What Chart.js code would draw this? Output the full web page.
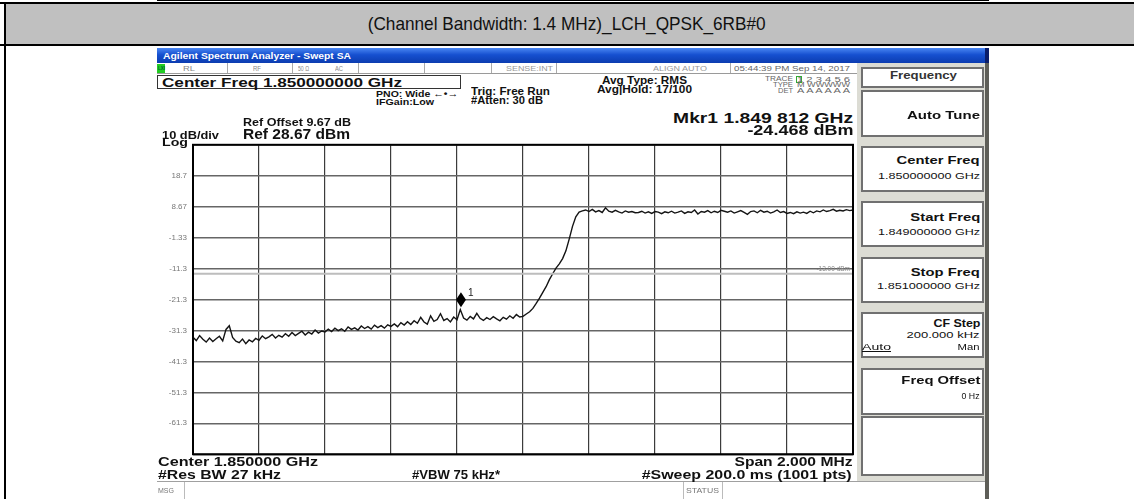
<!DOCTYPE html>
<html><head><meta charset="utf-8">
<script src="https://cdn.jsdelivr.net/npm/chart.js@4.4.1/dist/chart.umd.min.js"></script>
<style>
html,body{margin:0;padding:0;background:#fff;}
body{width:1134px;height:499px;position:relative;overflow:hidden;font-family:"Liberation Sans",Arial,sans-serif;}
.a{position:absolute;box-sizing:border-box;}
.t{position:absolute;white-space:nowrap;line-height:1;color:#111;}
.btn{position:absolute;box-sizing:border-box;background:#fff;border:2px solid #707070;left:861px;width:123px;}
</style></head><body>
<!-- page frame / header band -->
<div class="a" style="left:157px;top:0;width:832px;height:1px;background:#000"></div>
<div class="a" style="left:0;top:2px;width:1134px;height:2px;background:#000"></div>
<div class="a" style="left:4px;top:4px;width:1130px;height:40px;background:#c0c0c0"></div>
<div class="a" style="left:0;top:44px;width:1134px;height:2px;background:#000"></div>
<div class="a" style="left:4px;top:2px;width:2px;height:497px;background:#000"></div>

<!-- analyzer screen -->
<div class="a" style="left:157px;top:48px;width:828px;height:15px;background:linear-gradient(#4a86f2,#1650d0 45%,#0c3cb0)"></div>
<div class="a" style="left:985px;top:48px;width:4px;height:15px;background:#0a1d6a"></div>
<div class="a" style="left:985px;top:63px;width:4px;height:436px;background:#5e5e58"></div>
<!-- status row -->
<div class="a" style="left:157px;top:63px;width:701px;height:11px;border-bottom:1px solid #9a9a9a;background:#fff"></div>
<div class="a" style="left:157px;top:64px;width:8px;height:9px;background:#22cc22"></div>
<div class="a" style="left:227px;top:63px;width:1px;height:10px;background:#aaa"></div>
<div class="a" style="left:292px;top:63px;width:1px;height:10px;background:#aaa"></div>
<div class="a" style="left:358px;top:63px;width:1px;height:10px;background:#aaa"></div>
<div class="a" style="left:424px;top:63px;width:1px;height:10px;background:#aaa"></div>
<div class="a" style="left:491px;top:63px;width:1px;height:10px;background:#aaa"></div>
<div class="a" style="left:556px;top:63px;width:1px;height:10px;background:#aaa"></div>
<div class="a" style="left:730px;top:63px;width:1px;height:10px;background:#aaa"></div>
<div class="a" style="left:796px;top:76px;width:6px;height:7px;border:1px solid #3a3"></div>
<!-- center freq box -->
<div class="a" style="left:157px;top:75px;width:304px;height:14px;border:1px solid #333"></div>
<!-- right panel -->
<div class="a" style="left:857px;top:63px;width:128px;height:418px;background:#dcdcd4"></div>
<div class="btn" style="top:67px;height:21px"></div>
<div class="btn" style="top:90px;height:47px"></div>
<div class="btn" style="top:146px;height:46px"></div>
<div class="btn" style="top:201px;height:46px"></div>
<div class="btn" style="top:257px;height:46px"></div>
<div class="btn" style="top:312px;height:46px"></div>
<div class="btn" style="top:368px;height:47px"></div>
<div class="btn" style="top:416px;height:60px"></div>
<!-- msg row -->
<div class="a" style="left:157px;top:481px;width:828px;height:1px;background:#a0a0a0"></div>
<div class="a" style="left:184px;top:482px;width:1px;height:17px;background:#bbb"></div>
<div class="a" style="left:683px;top:482px;width:1px;height:17px;background:#bbb"></div>
<div class="a" style="left:722px;top:482px;width:1px;height:17px;background:#bbb"></div>

<div class="a" style="left:150px;top:134px;width:713px;height:331px"><canvas id="c" width="713" height="331"></canvas></div>

<script>
// ---- data ----
const freqStartMHz = 1849.0;
const freqStepMHz = 0.01;
const traceDbm = [
 -33.5,-34.6,-33.0,-34.2,-35.1,-33.8,-34.9,-34.0,-33.2,-34.7,
 -31.0,-29.8,-33.6,-34.8,-35.3,-34.1,-35.6,-34.4,-35.0,-33.9,
 -34.5,-33.1,-34.0,-33.4,-32.6,-33.8,-32.9,-33.5,-32.4,-33.2,
 -32.0,-33.0,-32.3,-31.6,-32.8,-31.9,-32.5,-31.2,-32.2,-31.5,
 -31.8,-30.9,-31.7,-30.6,-31.4,-30.8,-31.6,-30.2,-31.0,-30.5,
 -31.2,-29.9,-30.7,-30.1,-30.9,-29.6,-30.4,-29.8,-30.6,-29.5,
 -30.0,-29.2,-30.1,-28.8,-29.6,-28.5,-29.4,-28.2,-29.0,-27.1,
 -28.6,-29.3,-26.6,-28.4,-27.8,-25.9,-28.1,-27.5,-28.6,-27.0,
 -27.9,-24.6,-27.3,-28.0,-26.8,-27.6,-25.8,-27.4,-28.1,-27.2,
 -27.8,-26.9,-27.6,-28.2,-27.1,-27.7,-26.6,-27.4,-26.2,-27.0,
 -26.8,-26.0,-25.3,-24.2,-22.6,-20.9,-19.0,-17.2,-14.9,-13.0,
 -11.2,-9.8,-8.1,-5.6,-1.8,2.3,5.4,6.9,7.3,
 7.6,7.1,7.8,7.0,7.4,6.8,8.3,7.2,6.9,7.5,7.0,6.6,7.3,6.9,7.1,6.7,
 6.8,7.2,6.6,7.0,6.5,7.1,6.9,6.4,7.0,6.7,7.2,6.6,6.9,7.3,6.5,7.0,6.8,7.6,6.3,7.1,6.9,7.4,6.7,7.2,6.8,
 7.5,7.2,6.9,7.3,6.6,7.0,7.4,6.8,6.2,7.1,7.3,6.7,7.5,6.9,7.2,6.6,7.0,7.6,6.8,7.1,
 6.5,6.8,6.4,7.0,6.6,6.9,6.5,7.2,6.7,7.3,7.0,7.6,7.1,7.4,7.8,7.2,7.5,7.3,7.7,7.4,7.6
];
const markerFreqMHz = 1849.812;
const markerDbm = -24.468;
const limitDbm = -13.0;
const limitLabel = '-13.00 dBm';
const xGridMHz = [1849.0,1849.2,1849.4,1849.6,1849.8,1850.0,1850.2,1850.4,1850.6,1850.8,1851.0];
const yTickValues = [28.67,18.67,8.67,-1.33,-11.33,-21.33,-31.33,-41.33,-51.33,-61.33,-71.33];
const yTickLabels = ['','18.7','8.67','-1.33','-11.3','-21.3','-31.3','-41.3','-51.3','-61.3',''];

// ---- texts (text, x, centerY, fontSize, width, align, bold, color, extra) ----
const texts = [
 ['(Channel Bandwidth: 1.4 MHz)_LCH_QPSK_6RB#0',567,23,19,398,'center',false,'#111'],
 ['Agilent Spectrum Analyzer - Swept SA',163,56,9,188,'left',true,'#fff'],
 ['LXI',157.5,68.5,5.5,7,'left',true,'#063'],
 ['RL',183,68.5,7,12,'left',false,'#888'],
 ['RF',253,68.5,7,8,'left',false,'#888'],
 ['50 Ω',298,68.5,7,11,'left',false,'#888'],
 ['AC',335,68.5,7,8,'left',false,'#888'],
 ['SENSE:INT',506,68.5,7,47,'left',false,'#999'],
 ['ALIGN AUTO',653,68.5,7,54,'left',false,'#999'],
 ['05:44:39 PM Sep 14, 2017',734,68.5,7.5,116,'left',false,'#666'],
 ['Center Freq 1.850000000 GHz',162,83,13.5,240,'left',true,'#111'],
 ['PNO: Wide \u2190\u2022\u2192',376,93.5,9.5,82,'left',true,'#111'],
 ['IFGain:Low',376,102,9.5,58,'left',true,'#111'],
 ['Trig: Free Run',471,91.5,10,79,'left',true,'#111'],
 ['#Atten: 30 dB',471,100.5,10,72,'left',true,'#111'],
 ['Avg Type: RMS',602,80.5,10,85,'left',true,'#111'],
 ['Avg|Hold: 17/100',597,89.5,10,95,'left',true,'#111'],
 ['TRACE',793,79.5,6.5,28,'right',false,'#666'],
 ['1 2 3 4 5 6',797,79.5,7,53,'left',false,'#666'],
 ['TYPE',793,85.5,6.5,20,'right',false,'#666'],
 ['M WWWWW',797,85.5,6.5,53,'left',false,'#666'],
 ['DET',793,91.5,6.5,15,'right',false,'#666'],
 ['A A A A A A',797,91.5,6.5,53,'left',false,'#666'],
 ['Mkr1 1.849 812 GHz',853,117.5,15,180,'right',true,'#111'],
 ['-24.468 dBm',853,129.5,15,106,'right',true,'#111'],
 ['Ref Offset 9.67 dB',243,122.5,10,108,'left',true,'#111'],
 ['Ref 28.67 dBm',243,133.5,14,107,'left',true,'#111'],
 ['10 dB/div',162,135.5,10.5,57,'left',true,'#111'],
 ['Log',162,142.5,10.5,26,'left',true,'#111'],
 ['Center 1.850000 GHz',158,462.5,12.5,160,'left',true,'#111'],
 ['#Res BW 27 kHz',158,475,12.5,123,'left',true,'#111'],
 ['#VBW 75 kHz*',412,475,12.5,88,'left',true,'#111'],
 ['Span 2.000 MHz',852,462.5,12.5,118,'right',true,'#111'],
 ['#Sweep  200.0 ms (1001 pts)',852,475,12.5,210,'right',true,'#111'],
 ['MSG',158,491,6.5,16,'left',false,'#777'],
 ['STATUS',686,491,6.5,33,'left',false,'#777'],
 ['Frequency',890,76,10,67,'left',true,'#333'],
 ['Auto Tune',980,116,11.5,73,'right',true,'#111'],
 ['Center Freq',980,161,11.5,83,'right',true,'#111'],
 ['1.850000000 GHz',980,176.5,9,102,'right',false,'#111'],
 ['Start Freq',980,217.5,11.5,70,'right',true,'#111'],
 ['1.849000000 GHz',980,232.5,9,102,'right',false,'#111'],
 ['Stop Freq',980,272.5,11.5,69,'right',true,'#111'],
 ['1.851000000 GHz',980,286.5,9,103,'right',false,'#111'],
 ['CF Step',980,324,11.5,47,'right',true,'#111'],
 ['200.000 kHz',980,335.5,9,73,'right',false,'#111'],
 ['Auto',862,347.5,9,29,'left',false,'#111','u'],
 ['Man',980,347.5,9,22,'right',false,'#111'],
 ['Freq Offset',980,381,11.5,79,'right',true,'#111'],
 ['0 Hz',980,396,9,18,'right',false,'#111']
];

texts.forEach(([s,x,cy,fs,w,al,b,col,ex])=>{
  const e=document.createElement('div');
  e.className='t';
  e.textContent=s;
  e.style.fontSize=fs+'px';
  e.style.fontWeight=b?'bold':'normal';
  e.style.color=col;
  if(ex==='u') e.style.textDecoration='underline';
  e.style.top=(cy-0.49*fs)+'px';
  document.body.appendChild(e);
  const nat=e.getBoundingClientRect().width;
  const sx=w?w/nat:1;
  let left=x;
  if(al==='right'){left=x-nat;e.style.transformOrigin='right center';}
  else if(al==='center'){left=x-nat/2;e.style.transformOrigin='center center';}
  else e.style.transformOrigin='left center';
  e.style.left=left+'px';
  e.style.transform='scaleX('+sx.toFixed(4)+')';
});

// ---- chart ----
const tracePts = traceDbm.map((v,i)=>({x:+(freqStartMHz+i*freqStepMHz).toFixed(3),y:v}));
const overlay = {
  id:'overlay',
  afterDatasetsDraw(chart){
    const {ctx,chartArea:a,scales:{x,y}}=chart;
    ctx.save();
    ctx.strokeStyle='#000';ctx.lineWidth=2;
    ctx.strokeRect(a.left,a.top,a.right-a.left,a.bottom-a.top);
    // limit label
    const ly=y.getPixelForValue(limitDbm);
    ctx.fillStyle='#888';ctx.font='6.5px "Liberation Sans"';
    ctx.textAlign='right';ctx.textBaseline='middle';
    ctx.fillText(limitLabel,a.right-3,ly-5);
    // marker
    const px=x.getPixelForValue(markerFreqMHz), py=y.getPixelForValue(markerDbm);
    const cy=py-9.5;
    ctx.fillStyle='#000';
    ctx.beginPath();
    ctx.moveTo(px,cy-7.5);ctx.lineTo(px+5,cy);ctx.lineTo(px,cy+7.5);ctx.lineTo(px-5,cy);ctx.closePath();
    ctx.fill();
    ctx.fillStyle='#222';ctx.font='10px "Liberation Sans"';ctx.textAlign='left';
    ctx.fillText('1',px+7,cy-6);
    ctx.restore();
  }
};
new Chart(document.getElementById('c'),{
  type:'line',
  data:{datasets:[
    {data:[{x:xGridMHz[0],y:limitDbm},{x:xGridMHz[xGridMHz.length-1],y:limitDbm}],borderColor:'#bdbdbd',borderWidth:2,pointRadius:0},
    {data:tracePts,borderColor:'#141414',borderWidth:1.4,pointRadius:0,tension:0}
  ]},
  options:{
    responsive:false,animation:false,devicePixelRatio:1,
    layout:{padding:{top:10,right:10,bottom:10,left:0}},
    plugins:{legend:{display:false},tooltip:{enabled:false}},
    scales:{
      x:{type:'linear',min:xGridMHz[0],max:xGridMHz[xGridMHz.length-1],
        ticks:{display:false},grid:{color:'#3c3c3c',lineWidth:1.2,drawTicks:false},border:{display:false},
        afterBuildTicks:s=>{s.ticks=xGridMHz.map(v=>({value:v}));},
        afterFit:s=>{s.height=0;}},
      y:{type:'linear',min:yTickValues[yTickValues.length-1],max:yTickValues[0],
        ticks:{color:'#777',font:{size:8,family:'Liberation Sans'},padding:6,autoSkip:false,
          callback:v=>{const k=yTickValues.findIndex(t=>Math.abs(t-v)<0.005);return k<0?'':yTickLabels[k];}},
        grid:{color:'#666',lineWidth:1.4,drawTicks:false},border:{display:false},
        afterBuildTicks:s=>{s.ticks=yTickValues.map(v=>({value:v}));},
        afterFit:s=>{s.width=43;}}
    }
  },
  plugins:[overlay]
});
</script>
</body></html>
